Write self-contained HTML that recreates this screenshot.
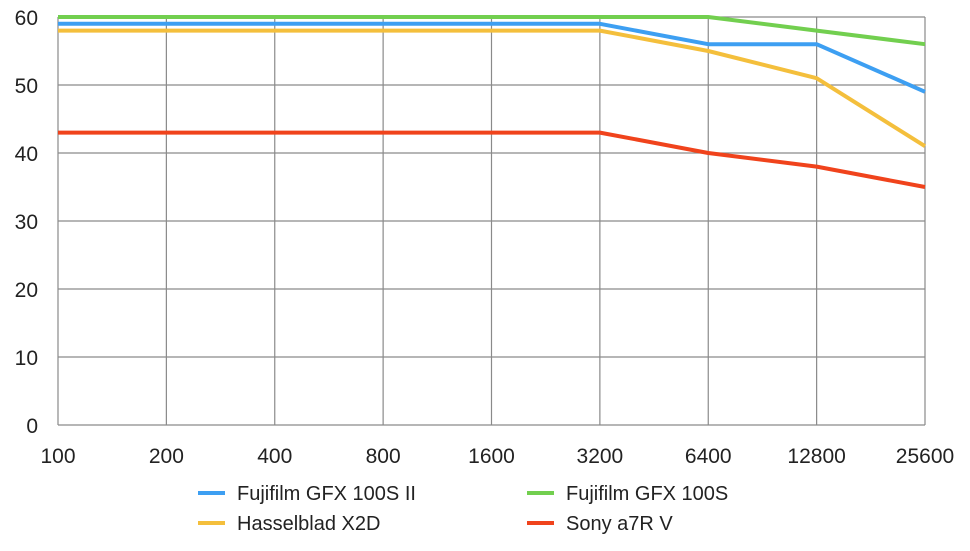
<!DOCTYPE html>
<html><head><meta charset="utf-8"><style>
html,body{margin:0;padding:0;background:#fff;}
svg text{font-family:"Liberation Sans",sans-serif;fill:#222;}
</style></head><body>
<svg id="chart" width="970" height="546" viewBox="0 0 970 546" xmlns="http://www.w3.org/2000/svg">
<g id="grid"></g>
<g id="series"></g>
<g id="legend"></g>
</svg>
<script>
const categories = ["100","200","400","800","1600","3200","6400","12800","25600"];
const yTicks = [0,10,20,30,40,50,60];
const seriesNames = ["Fujifilm GFX 100S II","Fujifilm GFX 100S","Hasselblad X2D","Sony a7R V"];
const fujiIIValues = [59,59,59,59,59,59,56,56,49];
const gfx100sValues = [60,60,60,60,60,60,60,58,56];
const x2dValues = [58,58,58,58,58,58,55,51,41];
const a7rvValues = [43,43,43,43,43,43,40,38,35];

const ns="http://www.w3.org/2000/svg";
const L=58,R=925,T=17,B=425;
const xPos=i=>L+(R-L)*i/(categories.length-1);
const yPos=v=>B-(B-T)*v/60;
function mk(tag,attrs,parent){const e=document.createElementNS(ns,tag);for(const k in attrs)e.setAttribute(k,attrs[k]);parent.appendChild(e);return e;}
const grid=document.getElementById('grid');
yTicks.forEach(v=>{
  const l=mk('line',{x1:L,x2:R,y1:yPos(v),y2:yPos(v),stroke:'#8a8a8a','stroke-width':1.2},grid);
  
  
  const t=mk('text',{x:L-20,y:yPos(v)+8,'text-anchor':'end','font-size':21},grid);
  t.textContent=v;
  
  
});
categories.forEach((c,i)=>{
  const l=mk('line',{x1:xPos(i),x2:xPos(i),y1:T,y2:B,stroke:'#8a8a8a','stroke-width':1.2},grid);
  
  
  const t=mk('text',{x:xPos(i),y:463,'text-anchor':'middle','font-size':21},grid);
  t.textContent=c;
  
  
});
const colors=["#3d9ff2","#72cf4f","#f4bf3c","#f0431c"];
const data=[fujiIIValues,gfx100sValues,x2dValues,a7rvValues];
const order=[1,0,2,3];
const sg=document.getElementById('series');
order.forEach(k=>{
  const pts=data[k].map((v,i)=>xPos(i)+','+yPos(v)).join(' ');
  const p=mk('polyline',{points:pts,fill:'none',stroke:colors[k],'stroke-width':4,'stroke-linejoin':'round'},sg);
  
  
});
const lg=document.getElementById('legend');
const lpos=[[198,493],[527,493],[198,523],[527,523]];
seriesNames.forEach((n,k)=>{
  const [x,y]=lpos[k];
  const l=mk('line',{x1:x,x2:x+27,y1:y,y2:y,stroke:colors[k],'stroke-width':4},lg);
  
  
  const t=mk('text',{x:x+39,y:y+7,'font-size':20},lg);
  t.textContent=n;
  
  
});
</script>
</body></html>
